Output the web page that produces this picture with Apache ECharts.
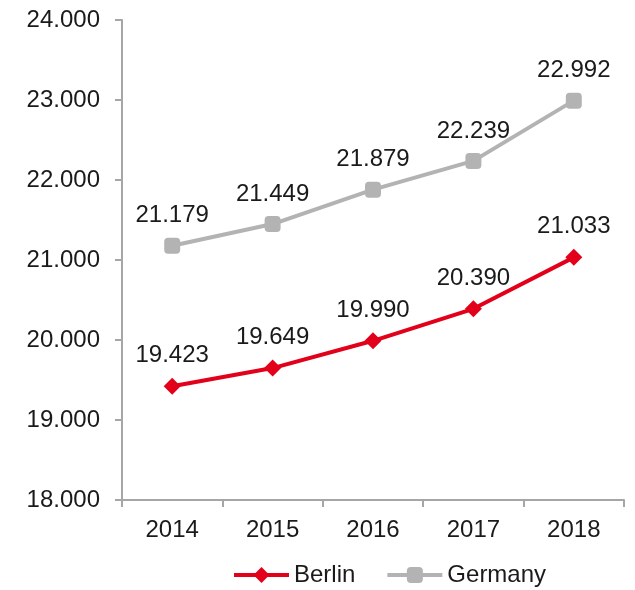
<!DOCTYPE html>
<html>
<head>
<meta charset="utf-8">
<script src="https://cdn.jsdelivr.net/npm/echarts@6/dist/echarts.min.js"></script>
<style>
  html, body { margin: 0; padding: 0; background: #fff; }
  #chart { width: 635px; height: 590px; }
</style>
</head>
<body>
<div id="chart"></div>
<script>
// Years on the x axis
var years = ['2014', '2015', '2016', '2017', '2018'];
// Series values
var berlin = [19423, 19649, 19990, 20390, 21033];
var germany = [21179, 21449, 21879, 22239, 22992];

var FONT = '"Liberation Sans", Arial, sans-serif';
var TEXT = '#1a1a1a';
var AXIS = '#a6a6a6';

// German number format: dot as thousands separator
function de(v) {
  return String(Math.round(v)).replace(/\B(?=(\d{3})+(?!\d))/g, '.');
}

var chart = echarts.init(document.getElementById('chart'), null, { renderer: 'canvas' });
chart.setOption({
  animation: false,
  textStyle: { fontFamily: FONT },
  grid: { left: 122, right: 11, top: 20, bottom: 90 },
  legend: {
    top: 563,
    left: 232,
    padding: 0,
    itemWidth: 55,
    itemHeight: 20,
    itemGap: 30,
    lineStyle: { width: 4 },
    textStyle: { fontSize: 24, color: TEXT, fontFamily: FONT },
    data: ['Berlin', 'Germany']
  },
  xAxis: {
    type: 'category',
    data: years,
    boundaryGap: true,
    axisLine: { lineStyle: { color: AXIS, width: 2 } },
    axisTick: { show: true, length: 7, lineStyle: { color: AXIS, width: 2 } },
    axisLabel: { fontSize: 24, color: TEXT, margin: 18, fontFamily: FONT },
    splitLine: { show: false }
  },
  yAxis: {
    type: 'value',
    min: 18000,
    max: 24000,
    interval: 1000,
    axisLine: { show: true, lineStyle: { color: AXIS, width: 2 } },
    axisTick: { show: true, length: 7, lineStyle: { color: AXIS, width: 2 } },
    axisLabel: { fontSize: 24, color: TEXT, margin: 22, fontFamily: FONT, formatter: de },
    splitLine: { show: false }
  },
  series: [
    {
      name: 'Berlin',
      type: 'line',
      data: berlin,
      symbol: 'diamond',
      symbolSize: 17,
      lineStyle: { color: '#e2001a', width: 4 },
      itemStyle: { color: '#e2001a' },
      label: {
        show: true, position: 'top', distance: 10,
        fontSize: 24, color: TEXT, fontFamily: FONT,
        formatter: function (p) { return de(p.value); }
      }
    },
    {
      name: 'Germany',
      type: 'line',
      data: germany,
      symbol: 'roundRect',
      symbolSize: 16,
      lineStyle: { color: '#b3b3b3', width: 4 },
      itemStyle: { color: '#b3b3b3' },
      label: {
        show: true, position: 'top', distance: 10,
        fontSize: 24, color: TEXT, fontFamily: FONT,
        formatter: function (p) { return de(p.value); }
      }
    }
  ]
});
</script>
</body>
</html>
